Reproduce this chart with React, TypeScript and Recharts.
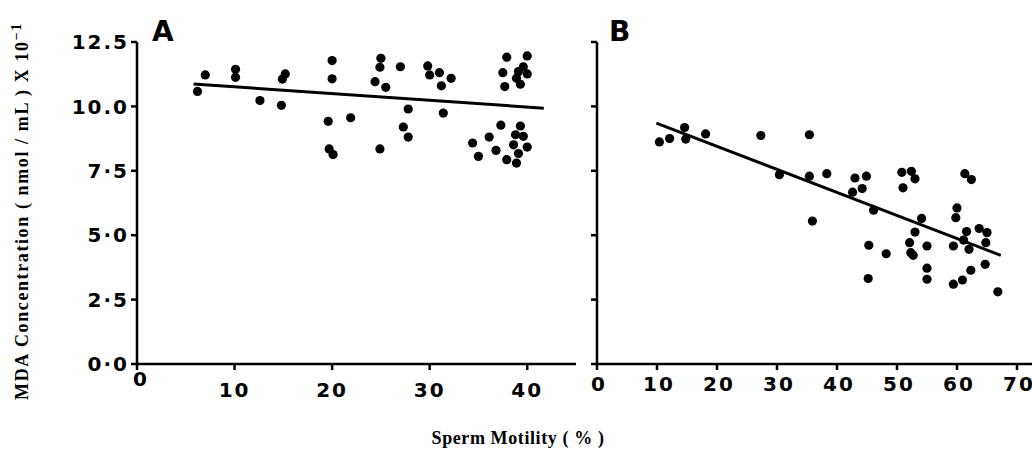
import React from "react";
import {
  ScatterChart,
  Scatter,
  XAxis,
  YAxis,
  ReferenceLine,
} from "recharts";

// Panel A: sperm motility (%) vs MDA
const aMotility = [
  7.0, 6.2, 10.1, 10.1, 15.2, 14.9, 12.6, 14.8, 20.0, 20.0, 19.6, 21.9, 19.7,
  20.1, 25.0, 24.9, 24.4, 25.5, 27.0, 24.9, 27.8, 27.3, 27.8, 29.8, 30.0, 31.0,
  32.2, 31.2, 31.4, 37.9, 37.5, 37.7, 40.0, 39.6, 39.1, 40.0, 38.9, 39.3, 37.3,
  39.3, 36.1, 34.4, 35.0, 36.8, 38.8, 39.6, 38.6, 40.0, 39.1, 37.9, 38.9,
];
const aMda = [
  11.22, 10.58, 11.44, 11.13, 11.26, 11.06, 10.23, 10.04, 11.78, 11.07, 9.42,
  9.56, 8.35, 8.13, 11.87, 11.52, 10.96, 10.74, 11.54, 8.35, 9.9, 9.2, 8.81,
  11.57, 11.22, 11.31, 11.09, 10.8, 9.74, 11.91, 11.31, 10.77, 11.96, 11.54,
  11.35, 11.26, 11.09, 10.86, 9.27, 9.24, 8.81, 8.58, 8.06, 8.29, 8.9, 8.84,
  8.51, 8.42, 8.17, 7.93, 7.8,
];
const aFit = [
  { x: 5.8, y: 10.87 },
  { x: 41.7, y: 9.93 },
];

// Panel B
const bMotility = [
  10.4, 12.1, 14.6, 14.8, 18.1, 27.3, 35.4, 30.4, 35.4, 38.3, 43.0, 44.9, 42.6,
  44.2, 50.8, 52.4, 53.0, 51.0, 61.3, 62.4, 46.1, 35.9, 54.1, 60.0, 59.8, 53.0,
  52.1, 52.3, 52.7, 55.0, 48.2, 45.3, 45.2, 55.0, 55.0, 59.4, 61.6, 61.1, 62.0,
  63.7, 65.0, 64.8, 64.7, 62.3, 59.4, 60.9, 66.8,
];
const bMda = [
  8.62, 8.75, 9.18, 8.73, 8.93, 8.87, 8.9, 7.35, 7.29, 7.39, 7.22, 7.29, 6.67,
  6.81, 7.44, 7.48, 7.19, 6.84, 7.39, 7.16, 5.97, 5.55, 5.65, 6.06, 5.68, 5.12,
  4.71, 4.32, 4.22, 4.58, 4.28, 4.61, 3.32, 3.72, 3.29, 4.58, 5.14, 4.81, 4.45,
  5.26, 5.1, 4.71, 3.87, 3.64, 3.1, 3.26, 2.8,
];
const bFit = [
  { x: 9.9, y: 9.35 },
  { x: 67.3, y: 4.22 },
];

const yTicks = [0, 2.5, 5, 7.5, 10, 12.5];
const yTickLabels = ["0·0", "2·5", "5·0", "7·5", "10.0", "12.5"];
const aXTicks = [0, 10, 20, 30, 40];
const bXTicks = [0, 10, 20, 30, 40, 50, 60, 70];

const aData = aMotility.map((x, i) => ({ x, y: aMda[i] }));
const bData = bMotility.map((x, i) => ({ x, y: bMda[i] }));

const tickFont = {
  fontFamily: "DejaVu Sans",
  fontWeight: 700,
  fontSize: 20,
  fill: "#000",
  letterSpacing: 2,
};

const Dot = (p: any) => <circle cx={p.cx} cy={p.cy} r={4.6} fill="#000" />;

const ATick = (p: any) => {
  const zero = p.payload.value === 0;
  return (
    <text
      x={p.x + (zero ? 4 : 0)}
      y={p.y + (zero ? 0 : 11)}
      dy="0.71em"
      textAnchor="middle"
      {...tickFont}
    >
      {p.payload.value}
    </text>
  );
};

const BTick = (p: any) => (
  <text x={p.x + 2} y={p.y + 5} dy="0.71em" textAnchor="middle" {...tickFont}>
    {p.payload.value}
  </text>
);

const axisLine = { stroke: "#000", strokeWidth: 2.5 };
const tickLine = { stroke: "#000", strokeWidth: 2.5 };

export default function App() {
  return (
    <div
      style={{
        position: "absolute",
        left: 0,
        top: 0,
        width: 1032,
        height: 452,
        overflow: "hidden",
        background: "#fff",
      }}
    >
      <div style={{ position: "absolute", left: 0, top: 0 }}>
        <ScatterChart
          width={580}
          height={452}
          margin={{ top: 42, right: 4, bottom: 58, left: 77 }}
        >
          <XAxis
            type="number"
            dataKey="x"
            domain={[0, 45]}
            ticks={aXTicks}
            height={30}
            axisLine={axisLine}
            tickLine={tickLine}
            tick={<ATick />}
            interval={0}
          />
          <YAxis
            type="number"
            dataKey="y"
            domain={[0, 12.5]}
            ticks={yTicks}
            width={60}
            axisLine={axisLine}
            tickLine={tickLine}
            tick={tickFont}
            tickFormatter={(v: number) => yTickLabels[yTicks.indexOf(v)]}
            interval={0}
          />
          <ReferenceLine
            segment={aFit}
            stroke="#000"
            strokeWidth={3}
            ifOverflow="visible"
          />
          <Scatter data={aData} shape={Dot} isAnimationActive={false} />
        </ScatterChart>
      </div>
      <div style={{ position: "absolute", left: 590, top: 0 }}>
        <ScatterChart
          width={457}
          height={452}
          margin={{ top: 42, right: 0, bottom: 58, left: 0 }}
        >
          <XAxis
            type="number"
            dataKey="x"
            domain={[0, 75]}
            ticks={bXTicks}
            height={30}
            axisLine={axisLine}
            tickLine={tickLine}
            tick={<BTick />}
            interval={0}
          />
          <YAxis
            type="number"
            dataKey="y"
            domain={[0, 12.5]}
            ticks={yTicks}
            width={7}
            axisLine={axisLine}
            tickLine={tickLine}
            tickFormatter={() => ""}
            interval={0}
          />
          <ReferenceLine
            segment={bFit}
            stroke="#000"
            strokeWidth={3}
            ifOverflow="visible"
          />
          <Scatter data={bData} shape={Dot} isAnimationActive={false} />
        </ScatterChart>
      </div>
      <div
        style={{
          position: "absolute",
          left: 152,
          top: 15,
          fontFamily: "DejaVu Sans",
          fontWeight: 700,
          fontSize: 28,
        }}
      >
        A
      </div>
      <div
        style={{
          position: "absolute",
          left: 609,
          top: 15,
          fontFamily: "DejaVu Sans",
          fontWeight: 700,
          fontSize: 28,
        }}
      >
        B
      </div>
      <div
        style={{
          position: "absolute",
          left: 21,
          top: 211,
          width: 0,
          height: 0,
        }}
      >
        <div
          style={{
            position: "absolute",
            left: 0,
            top: 0,
            transform: "translate(-50%, -50%) rotate(-90deg)",
            whiteSpace: "nowrap",
            fontFamily: "Liberation Serif",
            fontWeight: 700,
            fontSize: 18,
            letterSpacing: 1.6,
          }}
        >
          MDA Concentration ( nmol / mL ) X 10
          <sup style={{ fontSize: 14 }}>−1</sup>
        </div>
      </div>
      <div
        style={{
          position: "absolute",
          left: 518,
          top: 438,
          transform: "translate(-50%, -50%)",
          whiteSpace: "nowrap",
          fontFamily: "Liberation Serif",
          fontWeight: 700,
          fontSize: 18,
          letterSpacing: 0.6,
        }}
      >
        Sperm Motility ( % )
      </div>
    </div>
  );
}
